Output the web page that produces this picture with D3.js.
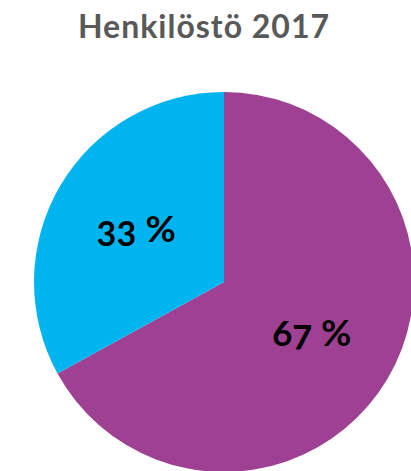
<!DOCTYPE html>
<html>
<head>
<meta charset="utf-8">
<script src="https://cdn.jsdelivr.net/npm/d3@7"></script>
<style>
  body { margin: 0; background: #fff; overflow: hidden; }
  text { font-family: Lato, "Open Sans", sans-serif; font-weight: bold; }
</style>
</head>
<body>
<script>
var width = 411;
var height = 471;

var categories = ["Naiset", "Miehet"];
var values = [67, 33];
var labels = ["67 %", "33 %"];
var colors = ["#9F4192", "#00B5EF"];

var svg = d3.select("body").append("svg")
    .attr("width", width)
    .attr("height", height);

svg.append("text")
    .attr("x", 204)
    .attr("y", 38)
    .attr("text-anchor", "middle")
    .attr("fill", "#595959")
    .attr("font-size", 32)
    .attr("letter-spacing", 1)
    .text("Henkilöstö 2017");

var radius = 190;
var g = svg.append("g")
    .attr("transform", "translate(224,282)");

var pie = d3.pie().sort(null).value(function(d) { return d; });
var arcs = pie(values);

var arc = d3.arc().innerRadius(0).outerRadius(radius);
var labelArc = d3.arc().innerRadius(102).outerRadius(102);

g.selectAll(".slice")
    .data(arcs)
    .enter().append("path")
    .attr("class", "slice")
    .attr("d", arc)
    .attr("fill", function(d, i) { return colors[i]; });

g.selectAll(".label")
    .data(arcs)
    .enter().append("text")
    .attr("class", "label")
    .attr("transform", function(d) {
        var c = labelArc.centroid(d);
        return "translate(" + c[0] + "," + (c[1] + 12) + ")";
    })
    .attr("text-anchor", "middle")
    .attr("font-size", 37)
    .attr("fill", "#000")
    .style("font-variant-numeric", "oldstyle-nums")
    .text(function(d, i) { return labels[i]; });
</script>
</body>
</html>
